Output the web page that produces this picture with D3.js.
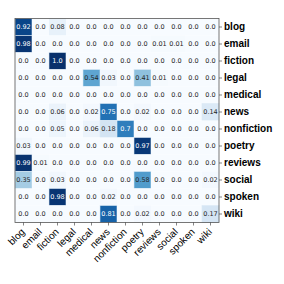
<!DOCTYPE html>
<html lang="en">
<head>
    <meta charset="utf-8">
    <title>Confusion Matrix</title>
    <script src="https://d3js.org/d3.v7.min.js"></script>
    <style>
        body { margin: 0; background: #fff; }
        svg { display: block; font-family: "DejaVu Sans", sans-serif; }
        .cell-text { font-size: 6.5px; }
        .row-label { font-size: 10px; font-weight: bold; fill: #000; }
        .col-label { font-size: 10px; fill: #000; }
    </style>
</head>
<body>
    <div id="chart"></div>
    <script>
        // Genre labels (rows = true, columns = predicted)
        const categories = ["blog", "email", "fiction", "legal", "medical", "news",
            "nonfiction", "poetry", "reviews", "social", "spoken", "wiki"];

        // One row per category
        const rowBlog       = [0.92, 0.0, 0.08, 0.0, 0.0, 0.0, 0.0, 0.0, 0.0, 0.0, 0.0, 0.0];
        const rowEmail      = [0.98, 0.0, 0.0, 0.0, 0.0, 0.0, 0.0, 0.0, 0.01, 0.01, 0.0, 0.0];
        const rowFiction    = [0.0, 0.0, 1.0, 0.0, 0.0, 0.0, 0.0, 0.0, 0.0, 0.0, 0.0, 0.0];
        const rowLegal      = [0.0, 0.0, 0.0, 0.0, 0.54, 0.03, 0.0, 0.41, 0.01, 0.0, 0.0, 0.0];
        const rowMedical    = [0.0, 0.0, 0.0, 0.0, 0.0, 0.0, 0.0, 0.0, 0.0, 0.0, 0.0, 0.0];
        const rowNews       = [0.0, 0.0, 0.06, 0.0, 0.02, 0.75, 0.0, 0.02, 0.0, 0.0, 0.0, 0.14];
        const rowNonfiction = [0.0, 0.0, 0.05, 0.0, 0.06, 0.18, 0.7, 0.0, 0.0, 0.0, 0.0, 0.0];
        const rowPoetry     = [0.03, 0.0, 0.0, 0.0, 0.0, 0.0, 0.0, 0.97, 0.0, 0.0, 0.0, 0.0];
        const rowReviews    = [0.99, 0.01, 0.0, 0.0, 0.0, 0.0, 0.0, 0.0, 0.0, 0.0, 0.0, 0.0];
        const rowSocial     = [0.35, 0.0, 0.03, 0.0, 0.0, 0.0, 0.0, 0.58, 0.0, 0.0, 0.0, 0.02];
        const rowSpoken     = [0.0, 0.0, 0.98, 0.0, 0.0, 0.02, 0.0, 0.0, 0.0, 0.0, 0.0, 0.0];
        const rowWiki       = [0.0, 0.0, 0.0, 0.0, 0.0, 0.81, 0.0, 0.02, 0.0, 0.0, 0.0, 0.17];

        const matrix = [rowBlog, rowEmail, rowFiction, rowLegal, rowMedical, rowNews,
            rowNonfiction, rowPoetry, rowReviews, rowSocial, rowSpoken, rowWiki];

        const width = 284, height = 284;
        const margin = { top: 18.5, left: 15 };
        const size = 204;

        const svg = d3.select("#chart").append("svg")
            .attr("width", width)
            .attr("height", height);

        const g = svg.append("g")
            .attr("transform", `translate(${margin.left},${margin.top})`);

        const x = d3.scaleBand().domain(categories).range([0, size]);
        const y = d3.scaleBand().domain(categories).range([0, size]);
        const color = d3.scaleSequential(d3.interpolateBlues).domain([0, 1]);

        // flatten for cells
        const cells = [];
        matrix.forEach((row, i) => {
            row.forEach((v, j) => {
                cells.push({ row: categories[i], col: categories[j], value: v });
            });
        });

        g.selectAll("rect.cell")
            .data(cells)
            .join("rect")
            .attr("class", "cell")
            .attr("x", d => x(d.col))
            .attr("y", d => y(d.row))
            .attr("width", x.bandwidth())
            .attr("height", y.bandwidth())
            .attr("fill", d => color(d.value))
            .attr("stroke", d => d.value > 0.1 ? "#dbe9f6" : "none")
            .attr("stroke-width", 0.6);

        g.selectAll("text.cell-text")
            .data(cells)
            .join("text")
            .attr("class", "cell-text")
            .attr("x", d => x(d.col) + x.bandwidth() / 2)
            .attr("y", d => y(d.row) + y.bandwidth() / 2)
            .attr("text-anchor", "middle")
            .attr("dominant-baseline", "central")
            .attr("fill", d => d.value > 0.6 ? "#fff" : "#262626")
            .text(d => d.value === 0 ? "0.0" : d.value === 1 ? "1.0" : String(d.value));

        // frame
        g.append("rect")
            .attr("width", size)
            .attr("height", size)
            .attr("fill", "none")
            .attr("stroke", "#555")
            .attr("stroke-width", 0.8);

        // right axis: row labels
        const yAxis = g.append("g")
            .attr("transform", `translate(${size},0)`)
            .call(d3.axisRight(y).tickSize(3).tickPadding(2));
        yAxis.select(".domain").remove();
        yAxis.selectAll("line").attr("stroke", "#333").attr("stroke-width", 0.6);
        yAxis.selectAll("text").attr("class", "row-label").attr("font-family", null).attr("font-size", null);

        // bottom axis: rotated column labels
        const xAxis = g.append("g")
            .attr("transform", `translate(0,${size})`)
            .call(d3.axisBottom(x).tickSize(3).tickPadding(1));
        xAxis.select(".domain").remove();
        xAxis.selectAll("line").attr("stroke", "#333").attr("stroke-width", 0.6);
        xAxis.selectAll("text")
            .attr("class", "col-label")
            .attr("font-family", null)
            .attr("font-size", null)
            .attr("text-anchor", "end")
            .attr("dy", null)
            .attr("y", 0)
            .attr("transform", "translate(2,10) rotate(-45)");
    </script>
</body>
</html>
